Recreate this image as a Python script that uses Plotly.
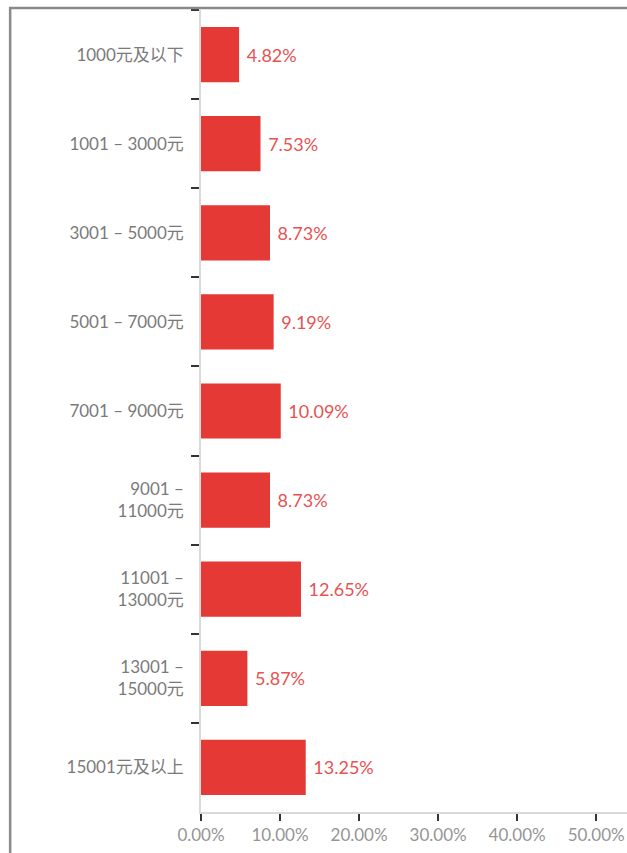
import plotly.graph_objects as go

categories = ["1000元及以下", "1001 – 3000元", "3001 – 5000元", "5001 – 7000元",
              "7001 – 9000元", "9001 –<br>11000元", "11001 –<br>13000元",
              "13001 –<br>15000元", "15001元及以上"]
values = [4.82, 7.53, 8.73, 9.19, 10.09, 8.73, 12.65, 5.87, 13.25]
x_ticks = [0, 10, 20, 30, 40, 50]

FONT = "Lato, 'Noto Sans CJK SC', sans-serif"

fig = go.Figure(go.Bar(
    x=values, y=categories, orientation="h",
    marker=dict(color="#e53935", line=dict(width=0)),
    width=0.62,
    text=[f"\u00a0{v:.2f}%" for v in values],
    textposition="outside",
    textfont=dict(color="#e85252", size=18, family=FONT),
    cliponaxis=False,
))

fig.update_layout(
    width=627, height=853,
    margin=dict(l=201, r=0, t=10, b=41),
    paper_bgcolor="white", plot_bgcolor="white",
    showlegend=False,
    font=dict(family=FONT, color="#777", size=16),
    xaxis=dict(range=[0, 53.9], tickvals=x_ticks,
               ticktext=[f"{t:.2f}%" for t in x_ticks],
               showgrid=False, zeroline=False,
               showline=True, linecolor="#d9d9d9", linewidth=1.5,
               ticks="outside", ticklen=7, tickcolor="#333", tickwidth=1.5,
               tickfont=dict(size=17, color="#959595")),
    yaxis=dict(autorange="reversed", showgrid=False, zeroline=False,
               showline=True, linecolor="#d9d9d9", linewidth=1.5,
               ticks="outside", tickson="boundaries", ticklen=8,
               tickcolor="#333", tickwidth=1.5, ticklabelstandoff=12,
               tickfont=dict(size=17, color="#7a7a7a")),
    shapes=[dict(type="rect", xref="paper", yref="paper",
                 x0=-0.448, x1=1.2, y0=-0.2, y1=1.0025,
                 line=dict(color="#8a8a8a", width=2.5), layer="above")],
)

fig.write_html(
    "out.html",
    config={"displayModeBar": False},
    post_script="document.body.style.margin='0';document.body.style.overflow='hidden';",
)
